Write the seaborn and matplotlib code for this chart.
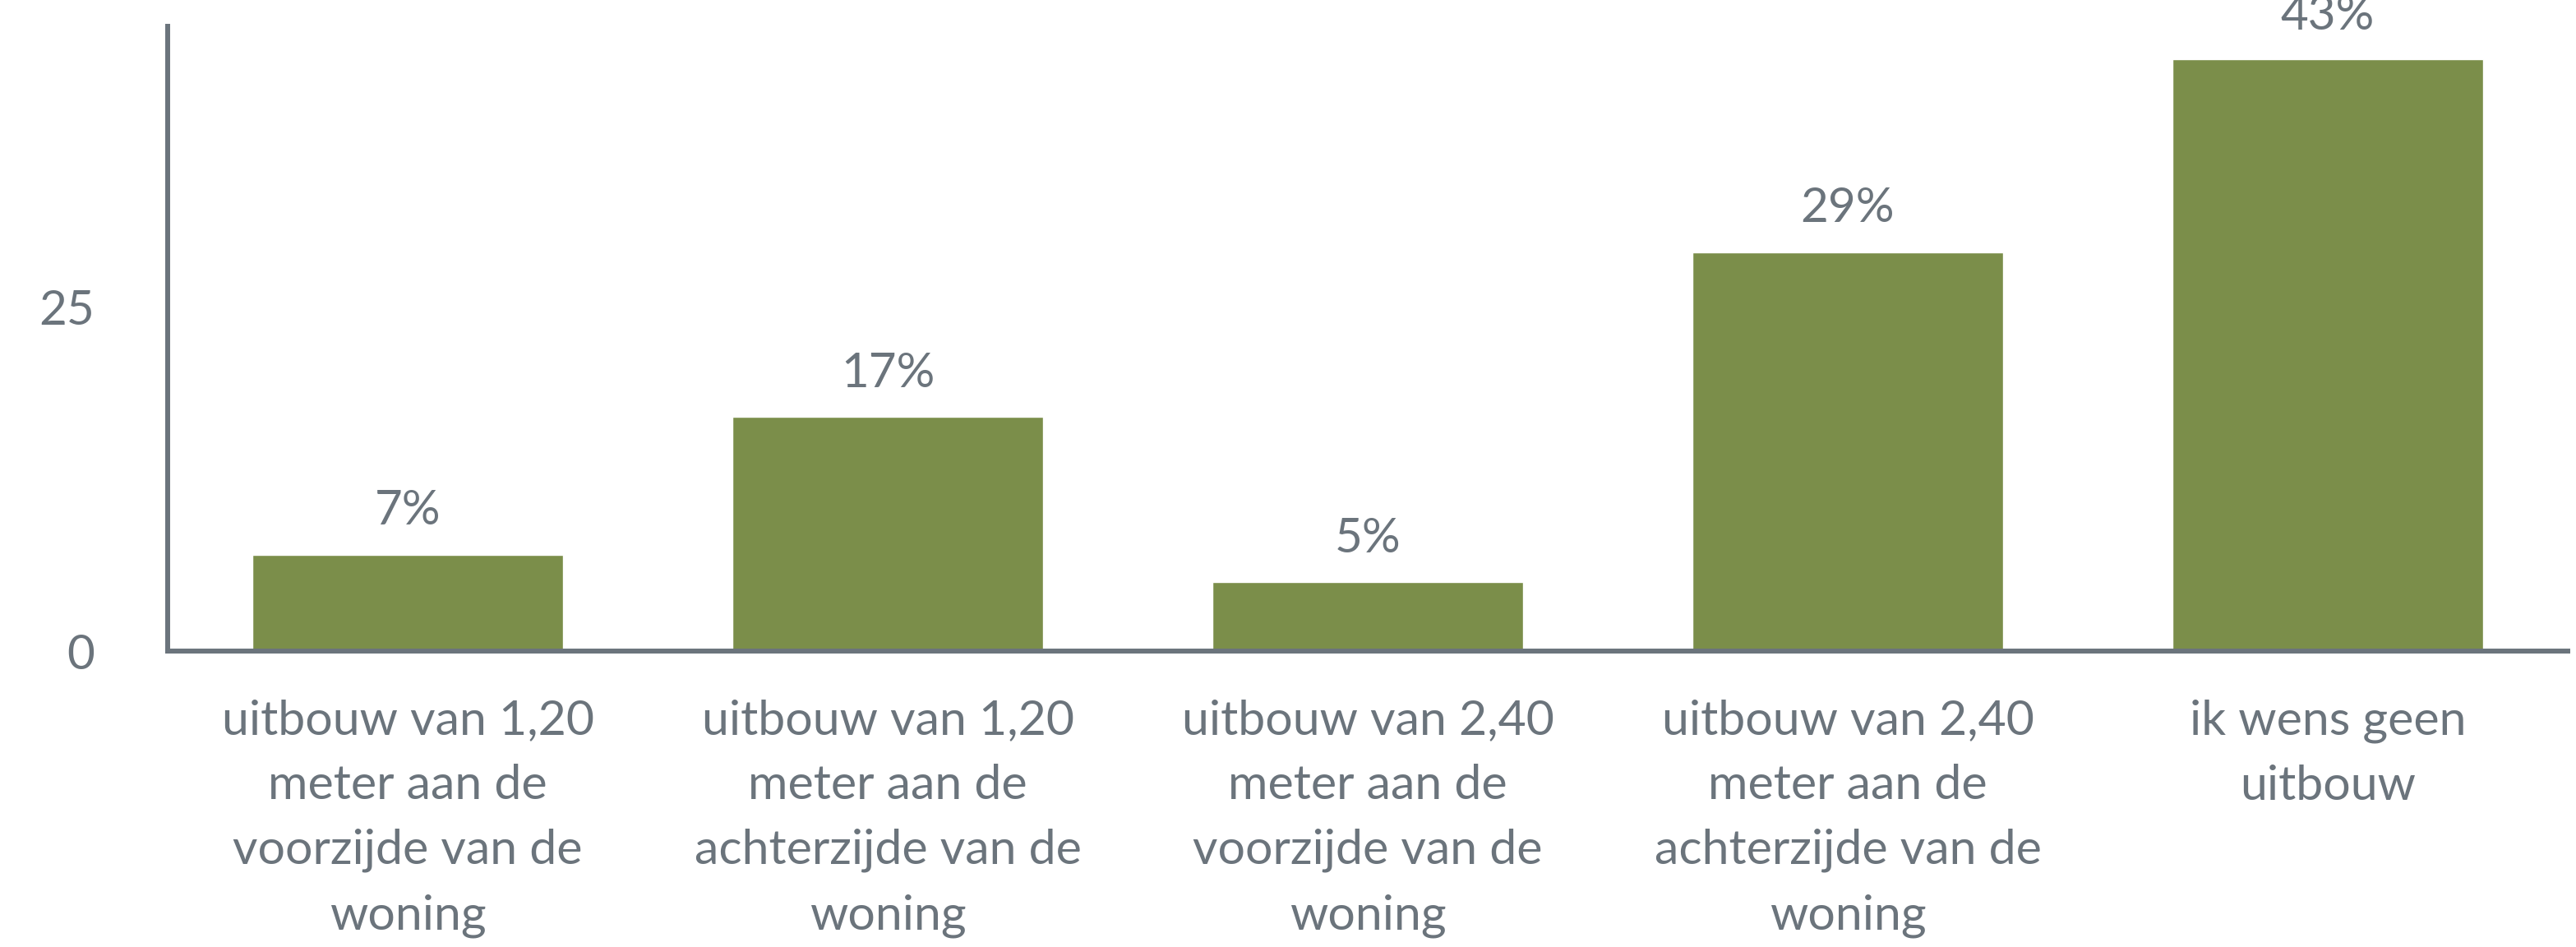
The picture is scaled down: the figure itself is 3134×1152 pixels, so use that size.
import matplotlib
matplotlib.use('Agg')
import matplotlib.pyplot as plt
import seaborn as sns
import pandas as pd

# Data
categories = [
    'uitbouw van 1,20\nmeter aan de\nvoorzijde van de\nwoning',
    'uitbouw van 1,20\nmeter aan de\nachterzijde van de\nwoning',
    'uitbouw van 2,40\nmeter aan de\nvoorzijde van de\nwoning',
    'uitbouw van 2,40\nmeter aan de\nachterzijde van de\nwoning',
    'ik wens geen\nuitbouw',
]
percentages = [7, 17, 5, 29, 43]
y_ticks = [0, 25]

bar_color = '#7B8E4A'
text_color = '#6B747C'

sns.set_style('white')
plt.rcParams['font.family'] = ['Lato', 'DejaVu Sans']

df = pd.DataFrame({'categorie': categories, 'procent': percentages})

fig = plt.figure(figsize=(31.34, 11.52), dpi=100)
ax = fig.add_axes([0.0651, 0.3125, 0.9317, 0.6597])

sns.barplot(data=df, x='categorie', y='procent', color=bar_color,
            width=0.646, saturation=1, ax=ax)

# value labels above the bars (the top one is clipped by the figure edge, as in the original)
for p, v in zip(ax.patches, percentages):
    ax.annotate(f'{v}%', (p.get_x() + p.get_width() / 2, p.get_height()),
                xytext=(0, 19), textcoords='offset points',
                ha='center', va='bottom', fontsize=42, color=text_color,
                annotation_clip=False)

ax.set_xlim(-0.5, 4.5)
ax.set_ylim(0, 45.4)
ax.set_yticks(y_ticks)
ax.set_xlabel('')
ax.set_ylabel('')

ax.tick_params(axis='y', length=0, pad=64, labelsize=42, labelcolor=text_color)
ax.tick_params(axis='x', length=0, pad=42, labelsize=42.5, labelcolor=text_color)
for lbl in ax.get_xticklabels():
    lbl.set_linespacing(1.6)

for side in ['top', 'right']:
    ax.spines[side].set_visible(False)
for side in ['left', 'bottom']:
    ax.spines[side].set_color(text_color)
    ax.spines[side].set_linewidth(4.3)

fig.savefig('out.png', dpi=100)
